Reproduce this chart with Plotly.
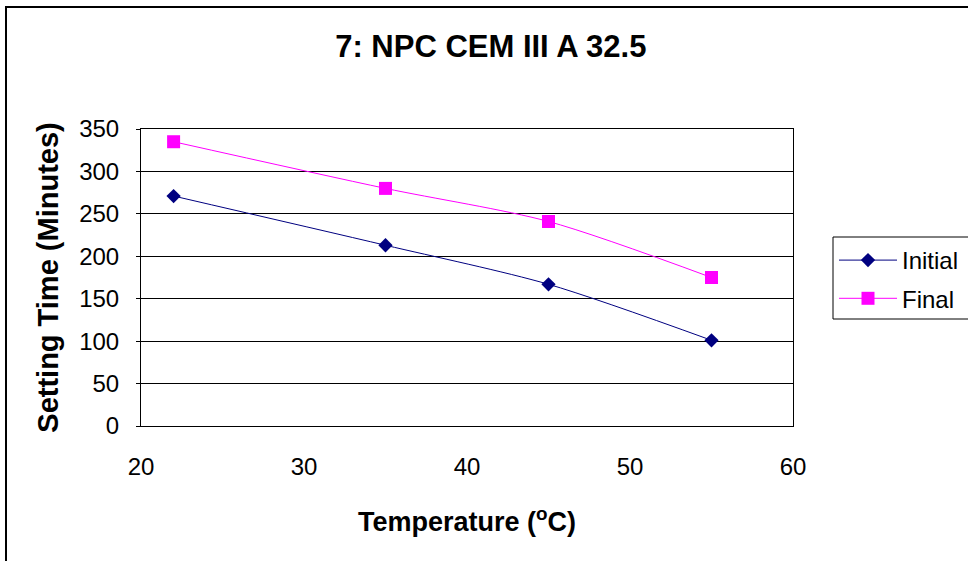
import plotly.graph_objects as go

temperature = [22, 35, 45, 55]
initial_set = [271, 213, 167, 101]
final_set = [335, 280, 241, 175]

FONT = "Liberation Sans, Arial, sans-serif"

fig = go.Figure()
fig.add_trace(go.Scatter(
    x=temperature, y=initial_set, name="Initial", mode="lines+markers",
    legendgroup="a",
    line=dict(color="#000080", width=1, shape="spline", smoothing=0.8),
    marker=dict(symbol="diamond", size=11, color="#000080"),
))
fig.add_trace(go.Scatter(
    x=temperature, y=final_set, name="Final", mode="lines+markers",
    legendgroup="b",
    line=dict(color="#FF00FF", width=1, shape="spline", smoothing=0.8),
    marker=dict(symbol="square", size=13, color="#FF00FF"),
))

def px_x(p):
    return (p - 141) / 652

def px_y(p):
    return (426 - p) / 297

fig.update_layout(
    width=968, height=561,
    margin=dict(l=141, r=175, t=129, b=135, autoexpand=False),
    paper_bgcolor="white", plot_bgcolor="white",
    font=dict(family=FONT, size=24, color="black"),
    title=dict(text="<b>7: NPC CEM III A 32.5</b>", x=0.507, xanchor="center",
               y=1 - 46 / 561, yanchor="middle", font=dict(size=31)),
    xaxis=dict(range=[20, 60], dtick=10, showgrid=False, zeroline=False,
               showline=True, linecolor="black", mirror=True, linewidth=1,
               ticks="", tickfont=dict(size=24), ticklabelstandoff=19,
               title=dict(text="<b>Temperature (<sup>o</sup>C)</b>", font=dict(size=27), standoff=33)),
    yaxis=dict(range=[0, 350], dtick=50, showgrid=True, gridcolor="black", gridwidth=1,
               zeroline=False, showline=True, linecolor="black", mirror=True, linewidth=1,
               ticks="outside", ticklen=4, tickcolor="black", tickfont=dict(size=24),
               ticklabelstandoff=12,
               title=dict(text="<b>Setting Time (Minutes)</b>", font=dict(size=29), standoff=12)),
    legend=dict(x=px_x(834), y=px_y(238), xanchor="left", yanchor="top",
                borderwidth=0, bgcolor="rgba(0,0,0,0)",
                font=dict(size=24), itemwidth=58, tracegroupgap=4, traceorder="grouped"),
    shapes=[
        dict(type="rect", xref="paper", yref="paper",
             x0=px_x(6), y0=-0.6, x1=1.6, y1=px_y(7),
             line=dict(color="black", width=2), fillcolor="rgba(0,0,0,0)", layer="below"),
        dict(type="rect", xref="paper", yref="paper",
             x0=px_x(833), y0=px_y(319), x1=px_x(1000), y1=px_y(237),
             line=dict(color="black", width=1), fillcolor="rgba(0,0,0,0)", layer="above"),
    ],
)

fig.write_html("out.html", config={"displayModeBar": False},
               post_script="document.body.style.margin='0';")
